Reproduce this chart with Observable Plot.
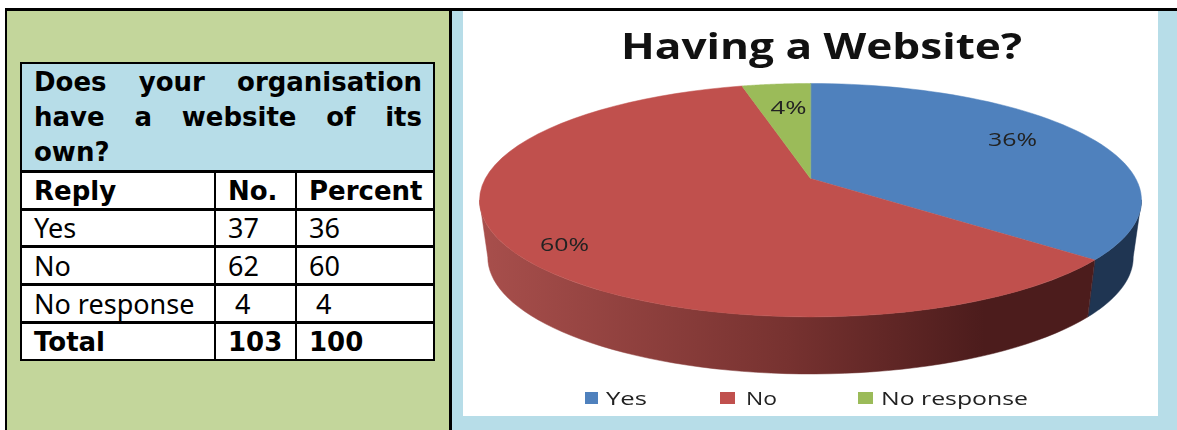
<!DOCTYPE html>
<html><head><meta charset="utf-8">
<script src="https://cdn.jsdelivr.net/npm/d3@7"></script>
<script src="https://cdn.jsdelivr.net/npm/@observablehq/plot@0.6"></script>
<style>
html,body{margin:0;padding:0;background:#fff;overflow:hidden}
#page{position:relative;width:1177px;height:430px;overflow:hidden;background:#fff}
#page>div{position:absolute}
#topline{left:5px;top:8px;width:1172px;height:3px;background:#000;z-index:3}
#leftline{left:5px;top:8px;width:2px;height:422px;background:#000;z-index:3}
#midline{left:449px;top:8px;width:3px;height:422px;background:#000;z-index:3}
#green{left:7px;top:11px;width:442px;height:419px;background:#c3d69b}
#blue{left:452px;top:11px;width:725px;height:419px;background:#b7dde8}
#chart{left:463px;top:11px;width:695px;height:405px;background:#fff}
#chart svg{display:block;filter:blur(0.5px)}
#tbl{left:20px;top:62px}
table{border-collapse:separate;border-spacing:0;table-layout:fixed;width:415px;
 border:2px solid #000;background:#fff;font-family:"Noto Sans",sans-serif;font-size:27px;color:#000}
td{padding:1px 0 0 12px;border-right:2px solid #000;border-top:3px solid #000;line-height:34px;height:38px;white-space:pre;box-sizing:border-box}
tr:nth-child(3) td{height:37px;padding-top:0}
tr td:last-child{border-right:0}
tr:first-child td{border-top:0;background:#b7dde8;font:700 26px/35px "DejaVu Sans",sans-serif;white-space:normal;padding:1px 11px 0 12px;height:106px;vertical-align:top}
tr:first-child td div{text-align:justify;text-align-last:justify}
tr:first-child td div:last-child{text-align-last:left}
.b td{font:700 26px/34px "DejaVu Sans",sans-serif}
#title{left:621px;top:22px;font:700 35px "Open Sans",sans-serif;color:#111;transform-origin:0 0;white-space:nowrap;filter:blur(0.5px)}
.lg{font:400 18px "Open Sans",sans-serif;color:#222;transform-origin:0 0;white-space:nowrap;top:386px;filter:blur(0.4px)}
.sw{top:392px;width:14px;height:12px}
</style></head>
<body><div id="page">
<div id="green"></div><div id="blue"></div><div id="chart"></div>
<div id="topline"></div><div id="leftline"></div><div id="midline"></div>
<div id="tbl"></div>
<div id="title">Having a Website?</div>
</div>
<script>
const questionLines = ["Does your organisation", "have a website of its", "own?"];
const tableHead = ["Reply", "No.", "Percent"];
const replies = ["Yes", "No", "No response"];
const counts = [37, 62, 4];
const percents = [36, 60, 4];
const totalRow = ["Total", "103", "100"];
const chartTitle = "Having a Website?";
const sliceColors = ["#4f81bd", "#c0504d", "#9bbb59"];

// ---- table (HTML)
const pad = v => (String(v).length === 1 ? "\u00a0" + v : String(v));
const widths = [194, 81, 136];
let html = "<table><colgroup>" + widths.map(w => `<col style="width:${w}px">`).join("") + "</colgroup>";
html += `<tr><td colspan="3">${questionLines.map(l => `<div>${l}</div>`).join("")}</td></tr>`;
html += `<tr class="b">${tableHead.map(t => `<td>${t}</td>`).join("")}</tr>`;
replies.forEach((r, i) => { html += `<tr><td>${r}</td><td>${pad(counts[i])}</td><td>${pad(percents[i])}</td></tr>`; });
html += `<tr class="b">${totalRow.map(t => `<td>${t}</td>`).join("")}</tr></table>`;
document.getElementById("tbl").innerHTML = html;

// ---- pie geometry: disk seen in perspective
const tilt = -0.186, depth = 0.506, baseShrink = 0.975, steps = 60;
const project = (deg, r = 1, base = false) => {
  const t = deg * Math.PI / 180, u = r * Math.sin(t), v = -r * Math.cos(t), w = 1 + tilt * v;
  return {x: (u / w) * (base ? baseShrink : 1), y: v / w + (base ? depth : 0)};
};
const total = d3.sum(percents);
const starts = [0];
percents.forEach(p => starts.push(starts[starts.length - 1] + p / total * 360));
const arc = (a, b, base) => d3.range(steps + 1).map(i => project(a + (b - a) * i / steps, 1, base));
const topSlice = i => [{x: 0, y: 0}, ...arc(starts[i], starts[i + 1], false)];
const silhouette = Math.acos(tilt) * 180 / Math.PI; // where the rim turns away
const sideBand = (a, b) => [...arc(a, b, false), ...arc(a, b, true).reverse()];

const gradient = () => {
  const defs = d3.create("svg:defs");
  const g = defs.append("linearGradient").attr("id", "noSide");
  [[0, "#a84f4c"], [0.5, "#773230"], [0.82, "#4c1c1c"], [1, "#4c1c1c"]].forEach(([o, c]) =>
    g.append("stop").attr("offset", o).attr("stop-color", c));
  return defs.node();
};

const labelRadius = [0.754, 0.865, 0.706];
const labelTurn = [-3.3, -5.6, 1];
const order = [0, 1, 2];
const labels = order.map(i => ({
  ...project((starts[i] + starts[i + 1]) / 2 + labelTurn[i], labelRadius[i]),
  text: percents[i] + "%"
}));

const fillShape = (pts, fill) => Plot.line(pts, {x: "x", y: "y", fill, stroke: fill, strokeWidth: 0.5, curve: "linear-closed"});

const plot = Plot.plot({
  width: 695, height: 405, margin: 0,
  style: {background: "transparent"},
  x: {axis: null, domain: [-1, 1], range: [347 - 325.2, 347 + 325.2]},
  y: {axis: null, domain: [-1, 1], range: [167 - 112.7, 167 + 112.7]},
  marks: [
    gradient,
    fillShape(sideBand(starts[0] + silhouette, starts[1]), "#1f3552"),
    fillShape(sideBand(starts[1], 360 - silhouette), "url(#noSide)"),
    ...order.map(i => fillShape(topSlice(i), sliceColors[i])),
    Plot.text(labels, {x: "x", y: "y", text: "text", fontSize: 18, fill: "#222", fontFamily: "Open Sans"})
  ]
});
document.getElementById("chart").appendChild(plot);
plot.querySelectorAll("text").forEach(t => {
  t.setAttribute("textLength", t.textContent === "4%" ? 36 : 49);
  t.setAttribute("lengthAdjust", "spacingAndGlyphs");
});

// ---- legend (HTML)
const page = document.getElementById("page");
const swatchX = [585, 720, 858], swatchW = [13, 15, 15], textX = [606, 746, 881], textW = [41, 31, 147];
replies.forEach((r, i) => {
  const s = document.createElement("div"); s.className = "sw"; s.style.left = swatchX[i] + "px"; s.style.width = swatchW[i] + "px"; s.style.background = sliceColors[i]; page.appendChild(s);
  const l = document.createElement("div"); l.className = "lg"; l.textContent = r; l.style.left = textX[i] + "px"; page.appendChild(l);
  l.style.transform = `scaleX(${textW[i] / l.getBoundingClientRect().width})`;
});
const ti = document.getElementById("title");
ti.textContent = chartTitle;
ti.style.transform = `scaleX(${401 / ti.getBoundingClientRect().width})`;
</script>
</body></html>
